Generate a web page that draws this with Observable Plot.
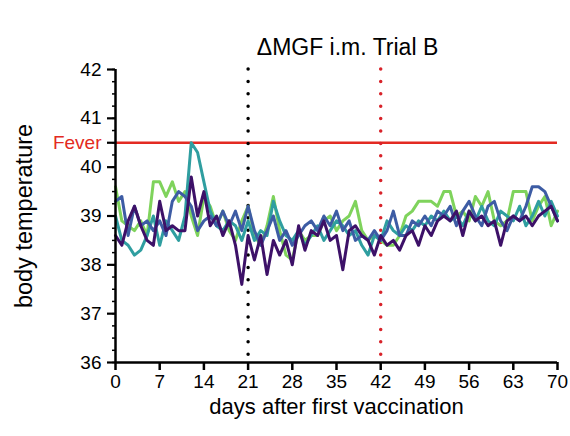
<!DOCTYPE html>
<html>
<head>
<meta charset="utf-8">
<script src="https://cdn.jsdelivr.net/npm/d3@7"></script>
<script src="https://cdn.jsdelivr.net/npm/@observablehq/plot@0.6"></script>
<style>
  html, body { margin: 0; padding: 0; background: white; }
</style>
</head>
<body>
<div id="chart"></div>
<script>
const title = "ΔMGF i.m. Trial B";
const xLabel = "days after first vaccination";
const yLabel = "body temperature";
const feverLabel = "Fever";
const feverTemp = 40.5;
const boostDays = [21, 42];
const xTicks = [0, 7, 14, 21, 28, 35, 42, 49, 56, 63, 70];
const yTicks = [36, 37, 38, 39, 40, 41, 42];
const days = d3.range(0, 71);

const green = [39.6,38.9,38.8,38.7,38.9,38.6,39.7,39.7,39.4,39.7,39.3,39.5,39.0,38.6,39.4,39.2,38.8,39.1,38.7,38.5,38.9,39.2,38.6,38.4,38.8,39.4,38.7,38.2,38.1,38.7,38.5,38.6,38.6,38.9,39.0,38.7,38.9,39.0,39.3,38.7,38.5,38.6,38.5,38.4,38.4,38.6,39.0,39.1,39.3,39.3,39.3,39.2,39.5,39.5,39.0,39.1,38.9,39.4,39.2,39.5,38.9,38.8,38.9,39.5,39.5,39.5,38.9,39.2,39.4,38.8,39.1];
const teal = [39.0,38.5,38.4,38.2,38.3,38.6,39.0,38.4,38.9,38.7,38.5,39.0,40.5,40.3,39.7,39.1,38.8,38.7,38.9,38.8,38.5,38.9,38.5,38.7,38.6,39.3,38.9,38.6,38.5,38.7,38.4,38.6,38.8,38.5,38.7,38.9,38.8,38.6,38.7,38.4,38.2,38.6,38.5,38.9,38.7,38.6,38.8,38.7,38.9,38.8,39.0,38.9,39.1,38.9,39.0,38.8,39.1,38.9,39.2,38.9,38.8,39.1,39.0,38.9,39.2,38.8,39.0,39.3,39.0,39.3,39.0];
const blue = [39.3,39.4,38.6,39.2,38.8,38.9,38.7,38.9,38.6,39.3,39.5,39.4,39.2,38.7,38.9,39.0,38.8,39.1,38.8,39.1,38.7,39.2,38.7,38.4,38.7,39.0,38.5,38.7,38.4,38.6,38.8,38.9,38.7,39.0,38.8,39.1,38.7,38.9,38.5,38.6,38.5,38.7,38.5,38.7,39.1,38.6,38.6,38.9,38.8,39.0,38.8,39.1,39.0,39.2,38.8,39.1,39.3,39.0,38.8,39.2,39.3,38.9,38.7,39.0,38.9,39.2,39.6,39.6,39.5,39.2,38.9];
const purple = [38.6,38.4,38.9,39.2,38.8,38.5,38.4,39.3,38.7,38.8,38.7,38.7,39.8,39.0,39.5,38.8,39.0,38.6,38.9,38.4,37.6,38.6,38.1,38.6,37.8,38.5,38.2,38.5,38.0,38.8,38.3,38.7,38.6,38.9,38.5,38.6,37.9,38.7,38.8,38.6,38.5,38.2,38.6,38.4,38.5,38.3,38.6,38.7,38.4,38.8,38.6,38.9,39.0,38.9,39.1,38.6,39.1,38.9,39.0,38.8,38.9,38.4,38.9,39.0,38.9,39.0,38.8,39.0,39.1,39.2,38.9];

const seriesNames = ["green", "teal", "blue", "purple"];
const seriesValues = [green, teal, blue, purple];
const seriesColors = ["#7fd35c", "#2f9ea0", "#3d5ca4", "#3d1168"];

const lineMarks = seriesValues.map((vals, i) =>
  Plot.line(days.map((d, j) => ({day: d, temp: vals[j]})), {
    x: "day", y: "temp", stroke: seriesColors[i], strokeWidth: 3, strokeLinejoin: "round"
  })
);

const chart = Plot.plot({
  width: 570,
  height: 436,
  marginTop: 69,
  marginBottom: 74,
  marginLeft: 115,
  marginRight: 13,
  x: {domain: [0, 70]},
  y: {domain: [36, 42]},
  style: {fontFamily: "'Liberation Sans', Arial, sans-serif", fontSize: "19px", background: "white", color: "black"},
  marks: [
    Plot.ruleY([feverTemp], {stroke: "#e32a22", strokeWidth: 2.5}),
    Plot.ruleX([boostDays[0]], {stroke: "black", strokeWidth: 3.5, strokeDasharray: "0 12.4", strokeLinecap: "round"}),
    Plot.ruleX([boostDays[1]], {stroke: "#d8232a", strokeWidth: 3.5, strokeDasharray: "0 12.4", strokeLinecap: "round"}),
    ...lineMarks,
    Plot.axisX({ticks: xTicks, tickSize: 8, strokeWidth: 2.5, tickPadding: 4, tickFormat: "d", label: null, fontSize: 19}),
    Plot.axisY({ticks: d3.range(36, 42.01, 0.25), tickSize: 3, strokeWidth: 1.5, tickFormat: () => "", label: null}),
    Plot.axisY({ticks: yTicks, tickSize: 8, strokeWidth: 2.2, tickPadding: 6, tickFormat: "d", label: null, fontSize: 19}),
    Plot.axisY([feverTemp], {tickSize: 8, strokeWidth: 2.2, tickPadding: 6, tickFormat: () => feverLabel, fill: "#e32a22", label: null, fontSize: 19}),
    Plot.ruleX([0], {stroke: "black", strokeWidth: 2.5}),
    Plot.ruleY([36], {stroke: "black", strokeWidth: 2.5}),
    Plot.text([title], {frameAnchor: "top", dy: -31, dx: 11, fontSize: 23}),
    Plot.text([xLabel], {frameAnchor: "bottom", dy: 51, fontSize: 22}),
    Plot.text([yLabel], {frameAnchor: "left", textAnchor: "middle", dx: -91, rotate: -90, fontSize: 23.5})
  ]
});
document.getElementById("chart").appendChild(chart);
</script>
</body>
</html>
